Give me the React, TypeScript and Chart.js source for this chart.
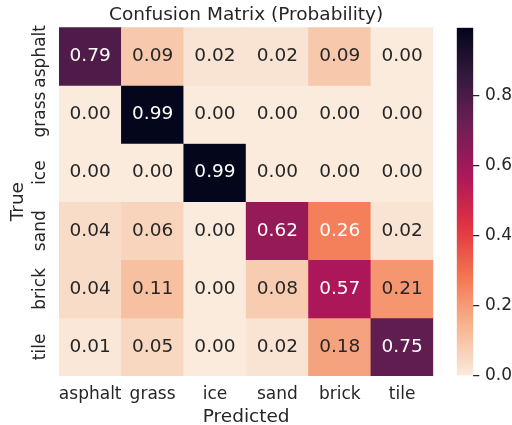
import React, { useEffect, useRef } from 'react';
import { Chart, registerables } from 'chart.js';

Chart.register(...registerables);

// ---- data ----
const predictedLabels = ['asphalt', 'grass', 'ice', 'sand', 'brick', 'tile'];
const trueLabels = ['asphalt', 'grass', 'ice', 'sand', 'brick', 'tile'];

const asphaltRow = [0.79, 0.09, 0.02, 0.02, 0.09, 0.0];
const grassRow = [0.0, 0.99, 0.0, 0.0, 0.0, 0.0];
const iceRow = [0.0, 0.0, 0.99, 0.0, 0.0, 0.0];
const sandRow = [0.04, 0.06, 0.0, 0.62, 0.26, 0.02];
const brickRow = [0.04, 0.11, 0.0, 0.08, 0.57, 0.21];
const tileRow = [0.01, 0.05, 0.0, 0.02, 0.18, 0.75];

const matrixRows = [asphaltRow, grassRow, iceRow, sandRow, brickRow, tileRow];

const colorbarMax = 0.994;
const colorbarTicks = [0, 0.2, 0.4, 0.6, 0.8];

// ---- style ----
const FONT = "'DejaVu Sans', sans-serif";
const TEXT = '#262626';

// rocket colormap anchors (position, hex)
const rocketAnchors: [number, string][] = [
  [0, '#03051a'],
  [1 / 7, '#35193e'],
  [2 / 7, '#701f57'],
  [3 / 7, '#ad1759'],
  [4 / 7, '#e13342'],
  [5 / 7, '#f37651'],
  [6 / 7, '#f6b48f'],
  [1, '#faebdd'],
];

function hexToRgb(h: string): number[] {
  return [parseInt(h.slice(1, 3), 16), parseInt(h.slice(3, 5), 16), parseInt(h.slice(5, 7), 16)];
}

function rocket(p: number): number[] {
  const t = Math.max(0, Math.min(1, p));
  for (let i = 0; i < rocketAnchors.length - 1; i++) {
    const [p0, c0] = rocketAnchors[i];
    const [p1, c1] = rocketAnchors[i + 1];
    if (t <= p1) {
      const f = (t - p0) / (p1 - p0);
      const a = hexToRgb(c0);
      const b = hexToRgb(c1);
      return a.map((v, k) => v + (b[k] - v) * f);
    }
  }
  return hexToRgb(rocketAnchors[rocketAnchors.length - 1][1]);
}

function rocketR(v: number): number[] {
  return rocket(1 - v / colorbarMax);
}

function rgbStr(c: number[]): string {
  return `rgb(${Math.round(c[0])},${Math.round(c[1])},${Math.round(c[2])})`;
}

function relLum(c: number[]): number {
  const f = (x: number) => {
    const s = x / 255;
    return s <= 0.03928 ? s / 12.92 : Math.pow((s + 0.055) / 1.055, 2.4);
  };
  return 0.2126 * f(c[0]) + 0.7152 * f(c[1]) + 0.0722 * f(c[2]);
}

function textColorFor(v: number): string {
  return relLum(rocketR(v)) > 0.408 ? TEXT : '#ffffff';
}

const cellTextPlugin = {
  id: 'cellText',
  afterDatasetsDraw(chart: any) {
    const ctx = chart.ctx;
    ctx.save();
    ctx.font = `18.5px ${FONT}`;
    ctx.textAlign = 'center';
    ctx.textBaseline = 'middle';
    matrixRows.forEach((row, r) => {
      const meta = chart.getDatasetMeta(r);
      meta.data.forEach((el: any, c: number) => {
        const p = el.getProps(['x', 'y', 'base'], true);
        const v = row[c];
        ctx.fillStyle = textColorFor(v);
        ctx.fillText(v.toFixed(2), p.x, (p.y + p.base) / 2);
      });
    });
    // y tick labels (rotated)
    const ys = chart.scales.y;
    ctx.font = `17px ${FONT}`;
    ctx.fillStyle = TEXT;
    ctx.textBaseline = 'alphabetic';
    trueLabels.forEach((lab, r) => {
      const cy = ys.getPixelForValue(r + 0.5);
      ctx.save();
      ctx.translate(ys.right - 14.5, cy);
      ctx.rotate(-Math.PI / 2);
      ctx.fillText(lab, 0, 0);
      ctx.restore();
    });
    ctx.restore();
  },
};

export default function App() {
  const mainRef = useRef<HTMLCanvasElement | null>(null);
  const barRef = useRef<HTMLCanvasElement | null>(null);

  useEffect(() => {
    if (!mainRef.current || !barRef.current) return;

    const main = new Chart(mainRef.current, {
      type: 'bar',
      data: {
        labels: predictedLabels,
        datasets: trueLabels.map((name, r) => ({
          label: name,
          data: predictedLabels.map(() => [r, r + 1]),
          backgroundColor: matrixRows[r].map((v) => rgbStr(rocketR(v))),
          borderWidth: 0,
          barPercentage: 1,
          categoryPercentage: 1,
          grouped: false,
        })),
      } as any,
      options: {
        animation: false,
        responsive: false,
        events: [],
        layout: { padding: { left: 0, right: 78.7, top: 0, bottom: 0 } },
        plugins: {
          legend: { display: false },
          tooltip: { enabled: false },
          title: {
            display: true,
            text: 'Confusion Matrix (Probability)',
            color: TEXT,
            font: { family: FONT, size: 18.5, weight: 'normal' },
            padding: { top: 4, bottom: 1.1 },
            fullSize: false,
          },
        },
        scales: {
          x: {
            type: 'category',
            offset: true,
            grid: { display: false, drawTicks: false },
            border: { display: false },
            ticks: {
              font: { family: FONT, size: 17 },
              color: TEXT,
              padding: 8,
              maxRotation: 0,
              minRotation: 0,
              autoSkip: false,
            },
            title: {
              display: true,
              text: 'Predicted',
              color: TEXT,
              font: { family: FONT, size: 18.5 },
              padding: { top: 0, bottom: -3 },
            },
            afterFit(s: any) {
              s.height = 49;
            },
          },
          y: {
            type: 'linear',
            min: 0,
            max: 6,
            reverse: true,
            grid: { display: false, drawTicks: false },
            border: { display: false },
            ticks: { display: false },
            title: {
              display: true,
              text: 'True',
              color: TEXT,
              font: { family: FONT, size: 18.5 },
              padding: { top: 7, bottom: 0 },
            },
            afterFit(s: any) {
              s.width = 59;
            },
          },
        },
      } as any,
      plugins: [cellTextPlugin],
    });

    const bar = new Chart(barRef.current, {
      type: 'bar',
      data: {
        labels: ['colorbar'],
        datasets: [
          {
            data: [[0, colorbarMax]],
            borderWidth: 0,
            barPercentage: 1,
            categoryPercentage: 1,
            backgroundColor: (context: any) => {
              const ch = context.chart;
              const ca = ch.chartArea;
              if (!ca) return 'transparent';
              const g = ch.ctx.createLinearGradient(0, ca.bottom, 0, ca.top);
              const n = 48;
              for (let i = 0; i <= n; i++) {
                g.addColorStop(i / n, rgbStr(rocketR((i / n) * colorbarMax)));
              }
              return g;
            },
          },
        ],
      } as any,
      options: {
        animation: false,
        responsive: false,
        events: [],
        layout: { padding: { left: 16.7, right: 0, top: 27.7, bottom: 49.3 } },
        plugins: { legend: { display: false }, tooltip: { enabled: false } },
        scales: {
          x: { display: false },
          y: {
            position: 'right',
            min: 0,
            max: colorbarMax,
            afterBuildTicks(s: any) {
              s.ticks = colorbarTicks.map((v) => ({ value: v }));
            },
            ticks: {
              callback: (v: any) => Number(v).toFixed(1),
              font: { family: FONT, size: 17 },
              color: TEXT,
              padding: 5.7,
            },
            grid: {
              display: true,
              drawOnChartArea: false,
              drawTicks: true,
              tickLength: 6,
              color: TEXT,
              lineWidth: 1.25,
            },
            border: { display: false },
            afterFit(s: any) {
              s.width = 38.7;
            },
          },
        },
      } as any,
    });

    return () => {
      main.destroy();
      bar.destroy();
    };
  }, []);

  return (
    <div style={{ position: 'absolute', left: 0, top: 0, width: 512, height: 425, background: '#ffffff', overflow: 'hidden' }}>
      <canvas ref={mainRef} width={512} height={425} style={{ position: 'absolute', left: 0, top: 0 }} />
      <canvas ref={barRef} width={72} height={425} style={{ position: 'absolute', left: 440, top: 0 }} />
    </div>
  );
}
